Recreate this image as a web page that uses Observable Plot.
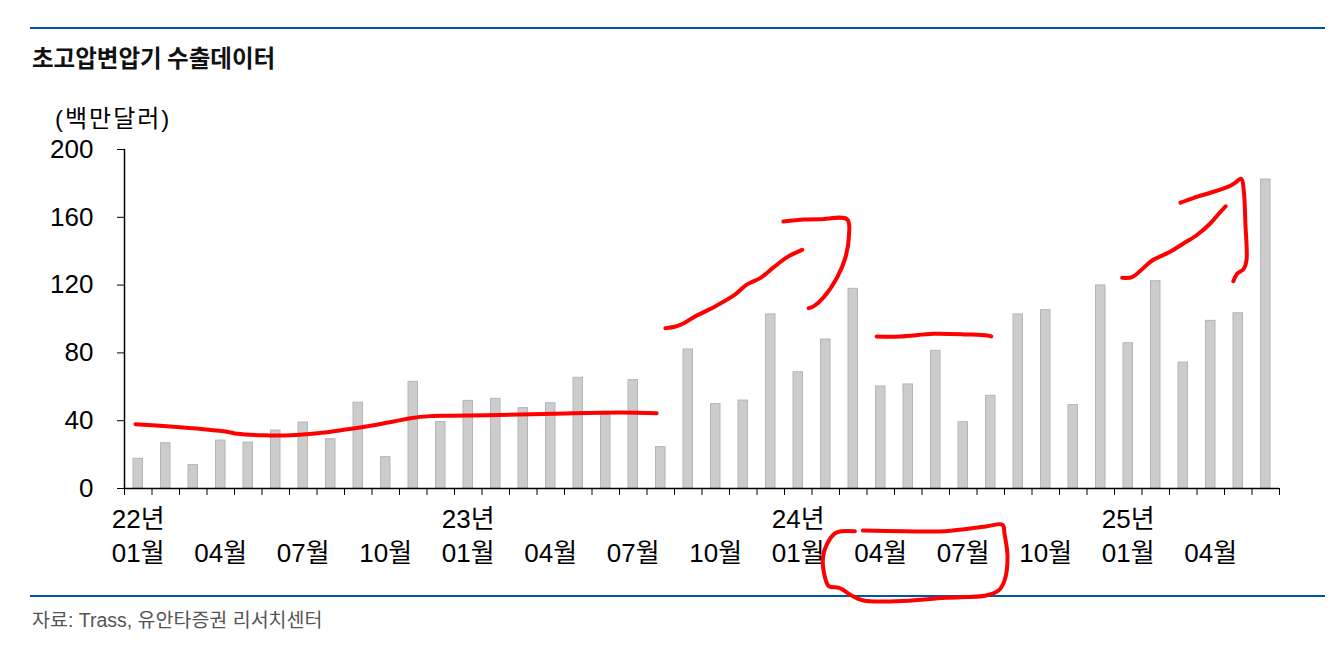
<!DOCTYPE html>
<html><head><meta charset="utf-8">
<script src="https://cdn.jsdelivr.net/npm/d3@7"></script>
<script src="https://cdn.jsdelivr.net/npm/@observablehq/plot@0.6"></script>
<style>
html,body{margin:0;padding:0;background:#fff;width:1333px;height:652px;overflow:hidden;position:relative;font-family:"Liberation Sans","Noto Sans CJK KR",sans-serif;color:#000;}
.rule{position:absolute;left:30px;width:1295px;height:2px;background:#0055a5;}
#title{position:absolute;left:32px;top:44px;font-family:"Noto Sans CJK KR",sans-serif;font-weight:700;font-size:23.5px;line-height:26px;color:#111;white-space:nowrap;}
#unit{position:absolute;left:55px;top:105px;font-family:"Liberation Sans","Noto Sans CJK KR",sans-serif;font-size:24px;line-height:28px;letter-spacing:2px;white-space:nowrap;}
#source{position:absolute;left:32px;top:608px;font-family:"Liberation Sans","Noto Sans CJK KR",sans-serif;font-size:19.5px;line-height:24px;color:#555;white-space:nowrap;}
#chart{position:absolute;left:0;top:130px;}
</style>
</head><body>
<div class="rule" style="top:27px"></div>
<div id="title">초고압변압기 수출데이터</div>
<div id="unit">(백만달러)</div>
<div class="rule" style="top:595px"></div>
<div id="source">자료: Trass, 유안타증권 리서치센터</div>
<div id="chart"></div>
<script>
// ---- data ----
const months = [
  "2022-01","2022-02","2022-03","2022-04","2022-05","2022-06","2022-07","2022-08","2022-09","2022-10","2022-11","2022-12",
  "2023-01","2023-02","2023-03","2023-04","2023-05","2023-06","2023-07","2023-08","2023-09","2023-10","2023-11","2023-12",
  "2024-01","2024-02","2024-03","2024-04","2024-05","2024-06","2024-07","2024-08","2024-09","2024-10","2024-11","2024-12",
  "2025-01","2025-02","2025-03","2025-04","2025-05","2025-06"
];
const values = [
  17.5, 26.7, 13.8, 28.3, 27.1, 34.2, 38.9, 29.1, 50.6, 18.5, 62.9, 39.2,
  51.7, 52.9, 47.4, 50.3, 65.3, 43.5, 63.9, 24.4, 82.0, 49.8, 51.9, 102.7,
  68.6, 87.9, 117.8, 60.2, 61.4, 81.2, 39.1, 54.7, 102.7, 105.2, 49.2, 119.8,
  85.7, 122.3, 74.3, 98.9, 103.4, 182.3
];
const yTicks = [0, 40, 80, 120, 160, 200];
const monthTicks = ["2022-01","2022-04","2022-07","2022-10","2023-01","2023-04","2023-07","2023-10","2024-01","2024-04","2024-07","2024-10","2025-01","2025-04"];
const monthTickLabels = ["01월","04월","07월","10월","01월","04월","07월","10월","01월","04월","07월","10월","01월","04월"];
const yearTicks = ["2022-01","2023-01","2024-01","2025-01"];
const yearTickLabels = ["22년","23년","24년","25년"];

// hand-drawn red annotations: [month position, value]
const markA = [[0.40,37.9],[1.67,36.6],[2.88,35.0],[3.73,33.5],[4.10,32.3],[5.07,31.4],[6.04,31.4],[7.01,32.6],[7.97,34.6],[8.95,37.0],[9.79,39.5],[10.40,41.5],[11.13,42.7],[11.85,42.9],[13.19,43.2],[15.61,44.1],[18.04,44.8],[19.35,44.4]];
const markB = [[19.67,94.6],[20.04,95.6],[20.34,97.5],[20.70,101.1],[21.31,106.0],[22.16,113.9],[22.64,120.4],[23.13,124.3],[23.61,130.6],[24.10,136.5],[24.64,140.8]];
const markC = [[23.96,157.5],[24.70,158.7],[25.31,158.9],[26.28,158.7],[26.34,148.3],[26.22,136.5],[25.92,124.7],[25.43,112.9],[25.07,107.6],[24.88,106.4]];
const markD = [[27.35,89.7],[28.22,89.7],[29.43,91.3],[30.64,90.9],[31.37,90.3],[31.52,89.7]];
const markE = [[36.28,124.3],[36.64,124.7],[36.95,128.6],[37.37,134.5],[38.04,139.8],[38.52,144.7],[39.01,149.7],[39.49,156.5],[39.79,162.1],[40.04,166.5]];
const markF = [[38.40,168.6],[38.88,171.5],[39.49,174.5],[40.10,177.8],[40.34,179.8],[40.61,182.7],[40.70,175.8],[40.76,156.2],[40.80,134.5],[40.70,129.6],[40.46,126.7],[40.32,122.3]];
const markG = [[26.56,-25.2],[26.07,-25.2],[25.84,-26.4],[25.55,-32.6],[25.40,-40.5],[25.47,-52.3],[25.62,-57.8],[25.99,-58.6],[26.44,-63.1],[26.87,-66.1],[28.07,-66.5],[29.85,-64.5],[31.33,-63.1],[31.78,-60.2],[32.0,-54.3],[32.11,-40.5],[32.0,-26.7],[31.93,-21.4],[31.33,-22.4],[29.85,-25.2],[28.36,-25.2],[26.85,-24.8]];

// ---- build ----
const bars = months.map((m, i) => ({i, m, v: values[i]}));
const monthLabelData = monthTicks.map((m, k) => ({x: months.indexOf(m) + 0.5, t: monthTickLabels[k]}));
const yearLabelData = yearTicks.map((m, k) => ({x: months.indexOf(m) + 0.5, t: yearTickLabels[k]}));
const marks = [markA, markB, markC, markD, markE, markF, markG]
  .flatMap((s, k) => s.map(([x, y]) => ({x, y, s: k})));

const chart = Plot.plot({
  width: 1333,
  height: 480,
  marginLeft: 124,
  marginRight: 54,
  marginTop: 19,
  marginBottom: 122,
  style: {fontFamily: "'Liberation Sans','Noto Sans CJK KR',sans-serif", color: "#000", background: "transparent", overflow: "visible"},
  x: {domain: [0, months.length]},
  y: {domain: [0, 200]},
  marks: [
    Plot.rectY(bars, {x1: "i", x2: d => d.i + 1, y: "v", fill: "#cccccc", stroke: "#b5b5b5", strokeWidth: 1, insetLeft: 9, insetRight: 9}),
    Plot.axisY({ticks: yTicks, tickSize: 7, tickPadding: 24, fontSize: 26, tickFormat: d => String(d)}),
    Plot.axisX({ticks: d3.range(0, months.length + 1), tickSize: 7, tickFormat: () => ""}),
    Plot.ruleX([0], {y1: 0, y2: 200, stroke: "#000", strokeWidth: 1.5}),
    Plot.ruleY([0], {stroke: "#000", strokeWidth: 1.5}),
    Plot.text(yearLabelData, {x: "x", text: "t", frameAnchor: "bottom", dy: 39, fontSize: 26, fill: "#000"}),
    Plot.text(monthLabelData, {x: "x", text: "t", frameAnchor: "bottom", dy: 73, fontSize: 26, fill: "#000"}),
    Plot.line(marks, {x: "x", y: "y", z: "s", stroke: "#ff0000", strokeWidth: 4, curve: "catmull-rom", strokeLinecap: "round", strokeLinejoin: "round"})
  ]
});
document.getElementById("chart").appendChild(chart);
</script>
</body></html>
